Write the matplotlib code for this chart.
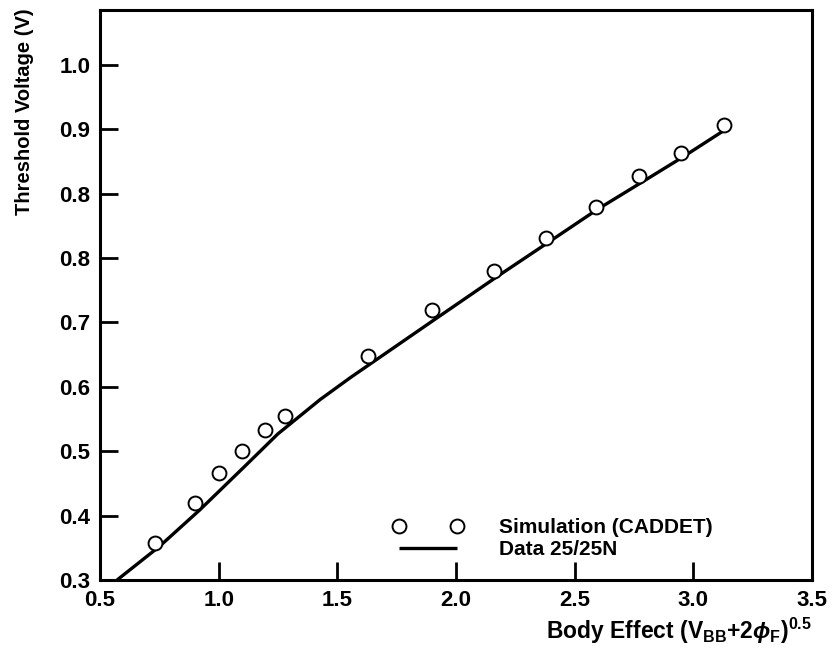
import matplotlib
matplotlib.use("Agg")
import matplotlib.pyplot as plt

plt.rcParams['font.family'] = ['Liberation Sans', 'DejaVu Sans']
plt.rcParams['font.weight'] = 'bold'
plt.rcParams['mathtext.fontset'] = 'custom'
plt.rcParams['mathtext.rm'] = 'Liberation Sans:bold'
plt.rcParams['mathtext.it'] = 'Liberation Sans:italic:bold'
plt.rcParams['mathtext.bf'] = 'Liberation Sans:bold'

# Simulation (CADDET) points
sim_x = [0.73, 0.90, 1.00, 1.10, 1.195, 1.28, 1.63, 1.90, 2.16, 2.38, 2.59, 2.77, 2.95, 3.13]
sim_y = [0.357, 0.420, 0.466, 0.500, 0.533, 0.555, 0.648, 0.719, 0.780, 0.831, 0.879, 0.927, 0.963, 1.007]

# Measured data 25/25N
data_x = [0.572, 0.75, 0.921, 1.103, 1.25, 1.427, 1.554, 1.920, 2.173, 2.384, 2.594, 2.776, 2.957, 3.121]
data_y = [0.300, 0.352, 0.409, 0.474, 0.527, 0.580, 0.614, 0.707, 0.771, 0.823, 0.875, 0.916, 0.957, 0.996]

x_ticks = [0.5, 1.0, 1.5, 2.0, 2.5, 3.0, 3.5]
x_tick_labels = ["0.5", "1.0", "1.5", "2.0", "2.5", "3.0", "3.5"]
y_ticks = [0.3, 0.4, 0.5, 0.6, 0.7, 0.8, 0.9, 1.0, 1.1]
y_tick_labels = ["0.3", "0.4", "0.5", "0.6", "0.7", "0.8", "0.8", "0.9", "1.0"]

fig = plt.figure(figsize=(8.32, 6.58), dpi=100)
ax = fig.add_axes([100/832, 1-580/658, 712/832, 570/658])

ax.plot(data_x, data_y, color='black', lw=2.4, solid_capstyle='butt', label='Data 25/25N', zorder=2)
ax.plot(sim_x, sim_y, linestyle='none', marker='o', markersize=10, markerfacecolor='white',
        markeredgecolor='black', markeredgewidth=1.4, label='Simulation (CADDET)', zorder=3)

ax.set_xlim(0.5, 3.5)
ax.set_ylim(0.3, 1.185)
ax.set_xticks(x_ticks)
ax.set_xticklabels(x_tick_labels)
ax.set_yticks(y_ticks)
ax.set_yticklabels(y_tick_labels)
ax.tick_params(direction='in', length=13, width=2, labelsize=16)
ax.tick_params(axis='x', pad=7)
ax.tick_params(axis='y', pad=7)

for s in ax.spines.values():
    s.set_linewidth(2.2)

handles, labels = ax.get_legend_handles_labels()
leg = ax.legend(handles[::-1], labels[::-1], loc='upper left', bbox_to_anchor=(0.385, 0.142),
                frameon=False, numpoints=2, handlelength=3.4, handletextpad=1.7,
                labelspacing=0.15, prop={'size': 15, 'weight': 'bold'})

fig.text(812/832, 1-631/658, r'Body Effect (V$_{\mathrm{BB}}$+2$\phi_{\mathrm{F}}$)$^{0.5}$',
         ha='right', va='center', fontsize=16.5, fontweight='bold')
fig.text(25/832, 1-8/658, 'Threshold Voltage (V)', rotation=90, ha='center', va='top',
         fontsize=14.5, fontweight='bold')

fig.savefig('out.png', dpi=100)
